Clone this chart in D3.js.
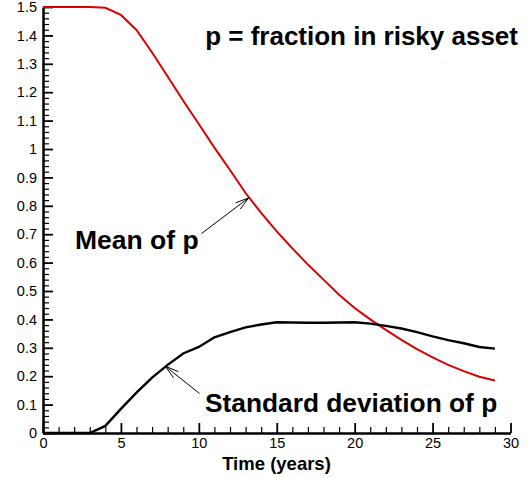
<!DOCTYPE html>
<html>
<head>
<meta charset="utf-8">
<script src="https://cdn.jsdelivr.net/npm/d3@7"></script>
<style>
  html, body { margin: 0; padding: 0; background: #fff; }
  svg { display: block; font-family: "Liberation Sans", Arial, Helvetica, sans-serif; }
</style>
</head>
<body>
<svg id="chart" width="528" height="478"></svg>
<script>
// Time in years
const years = [0,1,2,3,4,5,6,7,8,9,10,11,12,13,14,15,16,17,18,19,20,21,22,23,24,25,26,27,28,29];
// Mean of p (fraction held in the risky asset)
const meanP = [1.5,1.5,1.5,1.5,1.497,1.472,1.419,1.34,1.255,1.17,1.088,1.005,0.926,0.845,0.775,0.71,0.65,0.593,0.54,0.487,0.44,0.40,0.363,0.328,0.295,0.266,0.24,0.218,0.198,0.185];
// Standard deviation of p
const stdP = [0,0,0,0,0.025,0.085,0.142,0.195,0.24,0.28,0.303,0.337,0.355,0.372,0.382,0.39,0.389,0.388,0.388,0.389,0.39,0.385,0.377,0.368,0.355,0.34,0.327,0.316,0.303,0.297];

const xMajorTicks = [0,5,10,15,20,25,30];
const xTickLabels = ["0","5","10","15","20","25","30"];
const yMajorTicks = [0,0.1,0.2,0.3,0.4,0.5,0.6,0.7,0.8,0.9,1,1.1,1.2,1.3,1.4,1.5];
const yTickLabels = ["0","0.1","0.2","0.3","0.4","0.5","0.6","0.7","0.8","0.9","1","1.1","1.2","1.3","1.4","1.5"];

const svg = d3.select("#chart");
const x = d3.scaleLinear().domain([0, 30]).range([43, 510.5]);
const y = d3.scaleLinear().domain([0, 1.5]).range([433, 7]);

const xMinor = d3.range(0, 31, 1).filter(v => v % 5 !== 0);
const yMinor = d3.range(0, 76, 1).map(v => v / 50).filter((v, i) => i % 5 !== 0);

// minor ticks (inward)
svg.append("g").attr("transform", `translate(0,${y(0)})`)
  .call(d3.axisBottom(x).tickValues(xMinor).tickFormat("").tickSizeInner(-6).tickSizeOuter(0))
  .call(g => g.select(".domain").remove())
  .call(g => g.selectAll("line").attr("stroke", "#000").attr("stroke-width", 1.2));
svg.append("g").attr("transform", `translate(${x(0)},0)`)
  .call(d3.axisLeft(y).tickValues(yMinor).tickFormat("").tickSizeInner(-6).tickSizeOuter(0))
  .call(g => g.select(".domain").remove())
  .call(g => g.selectAll("line").attr("stroke", "#000").attr("stroke-width", 1.2));

// major axes
const xAxis = svg.append("g").attr("transform", `translate(0,${y(0)})`)
  .call(d3.axisBottom(x).tickValues(xMajorTicks).tickFormat((d, i) => xTickLabels[i])
    .tickSizeInner(-10).tickSizeOuter(0).tickPadding(5));
const yAxis = svg.append("g").attr("transform", `translate(${x(0)},0)`)
  .call(d3.axisLeft(y).tickValues(yMajorTicks).tickFormat((d, i) => yTickLabels[i])
    .tickSizeInner(-10).tickSizeOuter(0).tickPadding(6));

[xAxis, yAxis].forEach(g => {
  g.select(".domain").attr("stroke", "#000").attr("stroke-width", 2.5);
  g.selectAll(".tick line").attr("stroke", "#000").attr("stroke-width", 1.8);
  g.selectAll("text").attr("fill", "#000").style("font-size", "14.5px")
    .style("font-family", "'Liberation Sans', Arial, sans-serif");
});

// curves
const line = d3.line().x((d, i) => x(years[i])).y(d => y(d));
svg.append("path").datum(meanP).attr("d", line)
  .attr("fill", "none").attr("stroke", "#d80000").attr("stroke-width", 2);
svg.append("path").datum(stdP).attr("d", line)
  .attr("fill", "none").attr("stroke", "#000").attr("stroke-width", 2.4);

// annotation text
svg.append("text").attr("x", 518).attr("y", 45).attr("text-anchor", "end")
  .style("font-size", "26px").style("font-weight", "bold").text("p = fraction in risky asset");
svg.append("text").attr("x", 75).attr("y", 249).style("font-size", "26.5px")
  .style("font-weight", "bold").text("Mean of p");
svg.append("text").attr("x", 205).attr("y", 412).style("font-size", "26.3px")
  .style("font-weight", "bold").text("Standard deviation of p");
svg.append("text").attr("x", 276.5).attr("y", 469.5).attr("text-anchor", "middle")
  .style("font-size", "18.5px").style("font-weight", "bold").text("Time (years)");

// arrows with open heads
function arrow(x1, y1, x2, y2) {
  const g = svg.append("g").attr("stroke", "#000").attr("stroke-width", 1).attr("fill", "none");
  g.append("line").attr("x1", x1).attr("y1", y1).attr("x2", x2).attr("y2", y2);
  const a = Math.atan2(y2 - y1, x2 - x1), L = 14, spread = 0.28;
  [a + Math.PI - spread, a + Math.PI + spread].forEach(b => {
    g.append("line").attr("x1", x2).attr("y1", y2)
      .attr("x2", x2 + L * Math.cos(b)).attr("y2", y2 + L * Math.sin(b));
  });
}
arrow(201.5, 233.5, x(13.2), y(0.828));
arrow(199.5, 393.5, x(7.85), y(0.235));
</script>
</body>
</html>
